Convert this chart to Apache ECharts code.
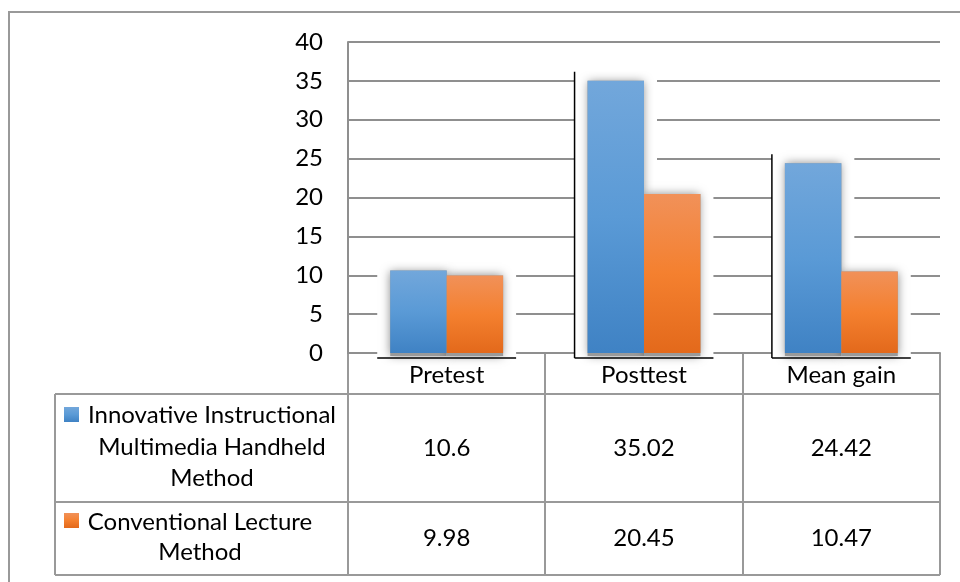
<!DOCTYPE html>
<html>
<head>
<meta charset="utf-8">
<title>Pretest, Posttest and Mean gain by method</title>
<script src="https://cdn.jsdelivr.net/npm/echarts@6.0.0/dist/echarts.min.js"></script>
<style>
  html, body { margin: 0; padding: 0; background: #fff; }
  #chart { width: 960px; height: 582px; }
</style>
</head>
<body>
<div id="chart"></div>
<script>
// Scores per assessment for the two teaching methods
const categories = ['Pretest', 'Posttest', 'Mean gain'];
const innovative = [10.6, 35.02, 24.42];
const conventional = [9.98, 20.45, 10.47];
const seriesNames = [
  'Innovative Instructional Multimedia Handheld Method',
  'Conventional Lecture Method'
];
// Wrapped legend text as it appears in the data table
const legendLines = [
  ['Innovative Instructional', 'Multimedia Handheld', 'Method'],
  ['Conventional Lecture', 'Method']
];
const yMin = 0, yMax = 40, yStep = 5;

const FONT = 'Lato, "Open Sans", sans-serif';
const FONT_SIZE = 24;
const GRID_COLOR = '#8f8f8f';
const BAR_RATIO = 0.286;           // bar width as a share of a category band
const GRID = { left: 348, right: 20, top: 42, bottom: 229 };

const blueFill = new echarts.graphic.LinearGradient(0, 0, 0, 1, [
  { offset: 0, color: '#72a7db' },
  { offset: 0.5, color: '#5a9ad6' },
  { offset: 1, color: '#3f82c4' }
]);
const orangeFill = new echarts.graphic.LinearGradient(0, 0, 0, 1, [
  { offset: 0, color: '#f19159' },
  { offset: 0.5, color: '#f4802f' },
  { offset: 1, color: '#e3691b' }
]);
const fills = [blueFill, orangeFill];

// White clearing behind each pair of bars, a soft grey glow around the bars,
// and the thin dark frame edges
function renderHalo(params, api) {
  const i = api.value(0);
  const vals = [api.value(1), api.value(2)];
  const base = api.coord([i, 0]);
  const band = api.size([1, 0])[0];
  const bw = band * BAR_RATIO;
  const padX = 13, padTop = 9, padBottom = 5;
  const children = [];
  const glows = [];
  let firstTop = 0;
  vals.forEach(function (v, s) {
    const top = api.coord([i, v])[1];
    const x0 = base[0] - bw + s * bw;
    if (s === 0) firstTop = top - padTop;
    children.push({
      type: 'rect',
      shape: { x: x0 - padX, y: top - padTop, width: bw + 2 * padX, height: base[1] + padBottom - (top - padTop) },
      style: { fill: '#ffffff' }
    });
    // hidden under the bar; only its blurred shadow shows around the edges
    glows.push({
      type: 'rect',
      shape: { x: x0, y: top, width: bw, height: base[1] + 3 - top },
      style: { fill: '#9a9a9a', shadowBlur: 9, shadowColor: 'rgba(0,0,0,0.45)' }
    });
  });
  glows.forEach(function (g) { children.push(g); });
  const left = base[0] - bw - padX;
  const right = base[0] + bw + padX;
  const bottom = base[1] + padBottom;
  children.push({
    type: 'line',
    shape: { x1: left, y1: bottom, x2: right, y2: bottom },
    style: { stroke: '#000', lineWidth: 1.5 }
  });
  if (i > 0) {
    children.push({
      type: 'line',
      shape: { x1: left, y1: firstTop, x2: left, y2: bottom },
      style: { stroke: '#000', lineWidth: 1.5 }
    });
  }
  return { type: 'group', children: children };
}

const chart = echarts.init(document.getElementById('chart'), null, { renderer: 'canvas' });

const option = {
  animation: false,
  backgroundColor: '#ffffff',
  grid: GRID,
  xAxis: {
    type: 'category',
    data: categories,
    axisLine: { lineStyle: { color: GRID_COLOR, width: 2 } },
    axisTick: { show: false },
    axisLabel: { color: '#000', fontFamily: FONT, fontSize: FONT_SIZE, margin: 10 },
    splitLine: { show: false }
  },
  yAxis: {
    type: 'value',
    min: yMin,
    max: yMax,
    interval: yStep,
    axisLine: { show: true, lineStyle: { color: GRID_COLOR, width: 2 } },
    axisTick: { show: false },
    axisLabel: { color: '#000', fontFamily: FONT, fontSize: FONT_SIZE, margin: 25 },
    splitLine: { show: true, lineStyle: { color: GRID_COLOR, width: 2 } }
  },
  series: [
    {
      type: 'custom',
      name: 'frame',
      z: 1,
      silent: true,
      renderItem: renderHalo,
      encode: { x: 0, y: [1, 2] },
      data: categories.map(function (c, i) { return [i, innovative[i], conventional[i]]; })
    },
    {
      type: 'bar',
      name: seriesNames[0],
      z: 2,
      data: innovative,
      barWidth: (BAR_RATIO * 100) + '%',
      barGap: '0%',
      itemStyle: { color: blueFill }
    },
    {
      type: 'bar',
      name: seriesNames[1],
      z: 2,
      data: conventional,
      barWidth: (BAR_RATIO * 100) + '%',
      barGap: '0%',
      itemStyle: { color: orangeFill }
    }
  ]
};
chart.setOption(option);

// Data table under the plot: grid lines, legend keys and values
(function drawTable() {
  const lineColor = '#999999';
  const plotLeft = GRID.left;
  const plotRight = 960 - GRID.right;
  const band = (plotRight - plotLeft) / categories.length;
  const axisY = 582 - GRID.bottom;
  const rowTops = [394, 502, 575];
  const tableLeft = 55;
  const rowCenters = [448, 538];
  const legendCenters = [212, 200];
  const legendLineTops = [[415, 447, 478], [522, 552]];
  const keyTops = [407, 513];
  const values = [innovative, conventional];

  const els = [];
  // outer frame of the figure
  els.push({
    type: 'polyline',
    shape: { points: [[9, 582], [9, 12], [960, 12]] },
    style: { stroke: lineColor, lineWidth: 2, fill: null }
  });
  rowTops.forEach(function (y) {
    els.push({ type: 'line', shape: { x1: tableLeft, y1: y, x2: plotRight, y2: y }, style: { stroke: lineColor, lineWidth: 2 } });
  });
  els.push({ type: 'line', shape: { x1: tableLeft, y1: rowTops[0], x2: tableLeft, y2: rowTops[2] }, style: { stroke: lineColor, lineWidth: 2 } });
  for (let k = 0; k <= categories.length; k++) {
    const x = Math.round(plotLeft + k * band);
    els.push({ type: 'line', shape: { x1: x, y1: axisY, x2: x, y2: rowTops[2] }, style: { stroke: lineColor, lineWidth: 2 } });
  }
  // legend keys and wrapped series names
  legendLines.forEach(function (lines, s) {
    els.push({ type: 'rect', shape: { x: 64, y: keyTops[s], width: 15, height: 15 }, style: { fill: fills[s] } });
    lines.forEach(function (t, j) {
      els.push({
        type: 'text',
        style: {
          text: t, x: legendCenters[s], y: legendLineTops[s][j],
          align: 'center', verticalAlign: 'middle',
          fontFamily: FONT, fontSize: FONT_SIZE, fill: '#000'
        }
      });
    });
  });
  // values, one cell per category
  values.forEach(function (arr, s) {
    arr.forEach(function (v, i) {
      const cx = chart.convertToPixel({ xAxisIndex: 0 }, categories[i]);
      els.push({
        type: 'text',
        style: {
          text: String(v), x: cx, y: rowCenters[s],
          align: 'center', verticalAlign: 'middle',
          fontFamily: FONT, fontSize: FONT_SIZE, fill: '#000'
        }
      });
    });
  });
  chart.setOption({ graphic: { elements: els } });
})();
</script>
</body>
</html>
